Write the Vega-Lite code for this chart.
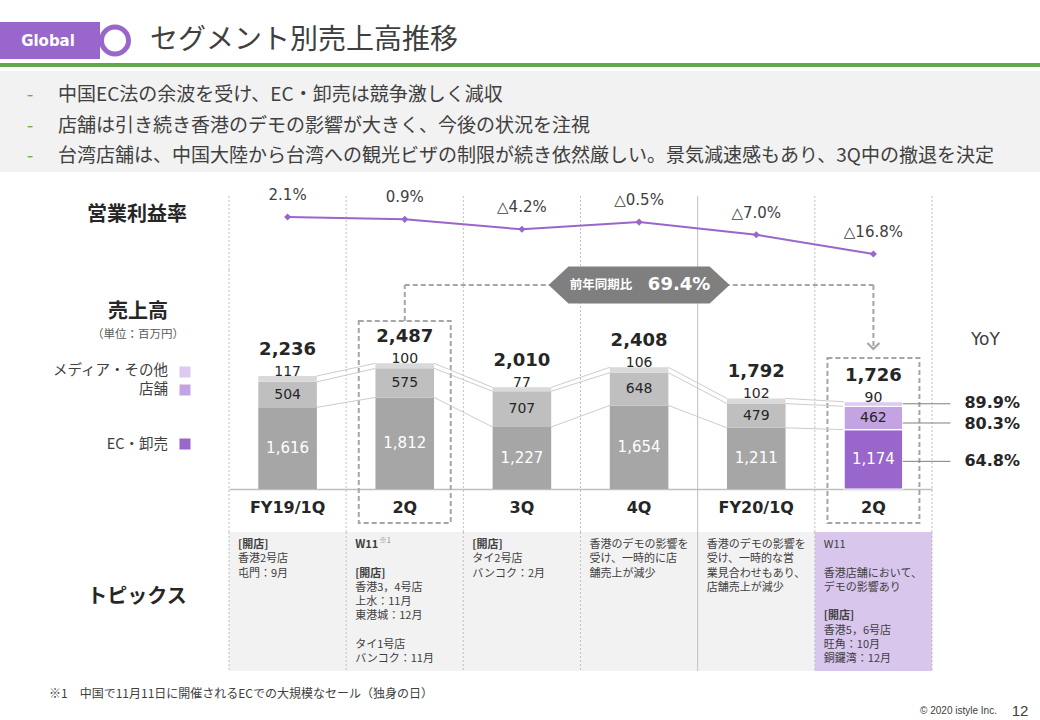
{
  "$schema": "https://vega.github.io/schema/vega-lite/v6.json",
  "background": "white",
  "padding": {"left": 0, "top": 22, "right": 0, "bottom": 0},
  "spacing": 4,
  "config": {
    "view": {"stroke": null},
    "font": "Noto Sans CJK JP",
    "text": {"color": "#404040", "font": "Noto Sans CJK JP"}
  },
  "datasets": {
    "bullets": [
      {"no": 1, "text": "中国EC法の余波を受け、EC・卸売は競争激しく減収"},
      {"no": 2, "text": "店舗は引き続き香港のデモの影響が大きく、今後の状況を注視"},
      {"no": 3, "text": "台湾店舗は、中国大陸から台湾への観光ビザの制限が続き依然厳しい。景気減速感もあり、3Q中の撤退を決定"}
    ],
    "quarters": [
      {"q": "FY19/1Q", "total": 2236, "margin": 2.1},
      {"q": "FY19/2Q", "total": 2487, "margin": 0.9},
      {"q": "FY19/3Q", "total": 2010, "margin": -4.2},
      {"q": "FY19/4Q", "total": 2408, "margin": -0.5},
      {"q": "FY20/1Q", "total": 1792, "margin": -7.0},
      {"q": "FY20/2Q", "total": 1726, "margin": -16.8}
    ],
    "sales": [
      {"q": "FY19/1Q", "seg": "EC・卸売", "rank": 1, "value": 1616},
      {"q": "FY19/1Q", "seg": "店舗", "rank": 2, "value": 504},
      {"q": "FY19/1Q", "seg": "メディア・その他", "rank": 3, "value": 117},
      {"q": "FY19/2Q", "seg": "EC・卸売", "rank": 1, "value": 1812},
      {"q": "FY19/2Q", "seg": "店舗", "rank": 2, "value": 575},
      {"q": "FY19/2Q", "seg": "メディア・その他", "rank": 3, "value": 100},
      {"q": "FY19/3Q", "seg": "EC・卸売", "rank": 1, "value": 1227},
      {"q": "FY19/3Q", "seg": "店舗", "rank": 2, "value": 707},
      {"q": "FY19/3Q", "seg": "メディア・その他", "rank": 3, "value": 77},
      {"q": "FY19/4Q", "seg": "EC・卸売", "rank": 1, "value": 1654},
      {"q": "FY19/4Q", "seg": "店舗", "rank": 2, "value": 648},
      {"q": "FY19/4Q", "seg": "メディア・その他", "rank": 3, "value": 106},
      {"q": "FY20/1Q", "seg": "EC・卸売", "rank": 1, "value": 1211},
      {"q": "FY20/1Q", "seg": "店舗", "rank": 2, "value": 479},
      {"q": "FY20/1Q", "seg": "メディア・その他", "rank": 3, "value": 102},
      {"q": "FY20/2Q", "seg": "EC・卸売", "rank": 1, "value": 1174, "yoy": 64.8},
      {"q": "FY20/2Q", "seg": "店舗", "rank": 2, "value": 462, "yoy": 80.3},
      {"q": "FY20/2Q", "seg": "メディア・その他", "rank": 3, "value": 90, "yoy": 89.9}
    ],
    "legend": [
      {"seg": "メディア・その他"},
      {"seg": "店舗"},
      {"seg": "EC・卸売"}
    ],
    "topics": [
      {"q": "FY19/1Q", "line": 0, "text": "[開店]", "kind": "head"},
      {"q": "FY19/1Q", "line": 1, "text": "香港2号店", "kind": "body"},
      {"q": "FY19/1Q", "line": 2, "text": "屯門：9月", "kind": "body"},
      {"q": "FY19/2Q", "line": 0, "text": "W11", "kind": "head"},
      {"q": "FY19/2Q", "line": 0, "text": "※1", "kind": "sup"},
      {"q": "FY19/2Q", "line": 2, "text": "[開店]", "kind": "head"},
      {"q": "FY19/2Q", "line": 3, "text": "香港3，4号店", "kind": "body"},
      {"q": "FY19/2Q", "line": 4, "text": "上水：11月", "kind": "body"},
      {"q": "FY19/2Q", "line": 5, "text": "東港城：12月", "kind": "body"},
      {"q": "FY19/2Q", "line": 7, "text": "タイ1号店", "kind": "body"},
      {"q": "FY19/2Q", "line": 8, "text": "バンコク：11月", "kind": "body"},
      {"q": "FY19/3Q", "line": 0, "text": "[開店]", "kind": "head"},
      {"q": "FY19/3Q", "line": 1, "text": "タイ2号店", "kind": "body"},
      {"q": "FY19/3Q", "line": 2, "text": "バンコク：2月", "kind": "body"},
      {"q": "FY19/4Q", "line": 0, "text": "香港のデモの影響を", "kind": "body"},
      {"q": "FY19/4Q", "line": 1, "text": "受け、一時的に店", "kind": "body"},
      {"q": "FY19/4Q", "line": 2, "text": "舗売上が減少", "kind": "body"},
      {"q": "FY20/1Q", "line": 0, "text": "香港のデモの影響を", "kind": "body"},
      {"q": "FY20/1Q", "line": 1, "text": "受け、一時的な営", "kind": "body"},
      {"q": "FY20/1Q", "line": 2, "text": "業見合わせもあり、", "kind": "body"},
      {"q": "FY20/1Q", "line": 3, "text": "店舗売上が減少", "kind": "body"},
      {"q": "FY20/2Q", "line": 0, "text": "W11", "kind": "body"},
      {"q": "FY20/2Q", "line": 2, "text": "香港店舗において、", "kind": "body"},
      {"q": "FY20/2Q", "line": 3, "text": "デモの影響あり", "kind": "body"},
      {"q": "FY20/2Q", "line": 5, "text": "[開店]", "kind": "head"},
      {"q": "FY20/2Q", "line": 6, "text": "香港5，6号店", "kind": "body"},
      {"q": "FY20/2Q", "line": 7, "text": "旺角：10月", "kind": "body"},
      {"q": "FY20/2Q", "line": 8, "text": "銅鑼湾：12月", "kind": "body"}
    ]
  },
  "vconcat": [
    {
      "hconcat": [
        {
          "width": 100, "height": 37,
          "view": {"fill": "#9966cc", "stroke": null},
          "data": {"values": [{"label": "Global"}]},
          "mark": {"type": "text", "font": "DejaVu Sans", "fontWeight": "bold", "fontSize": 15, "color": "white", "dx": -2},
          "encoding": {"text": {"field": "label"}}
        },
        {
          "width": 30, "height": 37,
          "data": {"values": [{"label": "ring"}]},
          "mark": {"type": "point", "shape": "circle", "size": 729, "filled": true, "fill": "white", "stroke": "#9966cc", "strokeWidth": 5, "strokeJoin": "round", "opacity": 1},
          "encoding": {}
        },
        {
          "width": 348, "height": 37,
          "data": {"values": [{"label": "セグメント別売上高推移"}]},
          "mark": {"type": "text", "fontSize": 28, "color": "#3f3f3f"},
          "encoding": {"text": {"field": "label"}}
        }
      ],
      "spacing": 0,
      "bounds": "flush"
    },
    {
      "width": 1040, "height": 4,
      "view": {"fill": "#5fa84b", "stroke": null},
      "data": {"values": [{"label": ""}]},
      "mark": {"type": "text", "fontSize": 1},
      "encoding": {"text": {"field": "label"}}
    },
    {
      "width": 1040, "height": 101,
      "view": {"fill": "#f2f2f2", "stroke": null},
      "data": {"name": "bullets"},
      "encoding": {
        "y": {"field": "no", "type": "ordinal", "axis": null, "scale": {"type": "point", "padding": 0.63}}
      },
      "layer": [
        {"mark": {"type": "text", "text": "-", "dx": -490, "dy": 4, "fontSize": 19, "color": "#70ad47"}},
        {"mark": {"type": "text", "align": "left", "dx": -462, "dy": 4, "fontSize": 19, "color": "#404040"},
         "encoding": {"text": {"field": "text"}}}
      ]
    },
    {
      "hconcat": [
        {
          "vconcat": [
            {
              "width": 228, "height": 94,
              "data": {"values": [{"label": "営業利益率"}]},
              "mark": {"type": "text", "fontSize": 20, "fontWeight": "bold", "color": "#262626", "dx": 23, "dy": -8},
              "encoding": {"text": {"field": "label"}}
            },
            {
              "width": 228, "height": 262,
              "layer": [
                {
                  "data": {"values": [{"label": "売上高"}]},
                  "mark": {"type": "text", "fontSize": 20, "fontWeight": "bold", "color": "#262626", "dx": 24, "dy": -89},
                  "encoding": {"text": {"field": "label"}}
                },
                {
                  "data": {"values": [{"label": "（単位：百万円）"}]},
                  "mark": {"type": "text", "fontSize": 11.5, "color": "#595959", "dx": 24, "dy": -66},
                  "encoding": {"text": {"field": "label"}}
                },
                {
                  "data": {"name": "legend"},
                  "transform": [{"filter": "datum.seg === 'メディア・その他'"}],
                  "mark": {"type": "text", "align": "right", "fontSize": 14.5, "dx": 54, "dy": -30},
                  "encoding": {"text": {"field": "seg"}}
                },
                {
                  "data": {"name": "legend"},
                  "transform": [{"filter": "datum.seg === '店舗'"}],
                  "mark": {"type": "text", "align": "right", "fontSize": 14.5, "dx": 54, "dy": -11},
                  "encoding": {"text": {"field": "seg"}}
                },
                {
                  "data": {"name": "legend"},
                  "transform": [{"filter": "datum.seg === 'EC・卸売'"}],
                  "mark": {"type": "text", "align": "right", "fontSize": 14.5, "dx": 54, "dy": 44},
                  "encoding": {"text": {"field": "seg"}}
                },
                {
                  "data": {"name": "legend"},
                  "transform": [{"filter": "datum.seg === 'メディア・その他'"}],
                  "mark": {"type": "point", "shape": "square", "size": 121, "filled": true, "opacity": 1, "xOffset": 71, "yOffset": -29},
                  "encoding": {"color": {"field": "seg", "type": "nominal", "legend": null, "scale": {"domain": ["EC・卸売", "店舗", "メディア・その他", "EC・卸売(前)", "店舗(前)", "メディア・その他(前)"], "range": ["#9966cc", "#c4a3e3", "#dccaf0", "#a6a6a6", "#bfbfbf", "#d9d9d9"]}}}
                },
                {
                  "data": {"name": "legend"},
                  "transform": [{"filter": "datum.seg === '店舗'"}],
                  "mark": {"type": "point", "shape": "square", "size": 121, "filled": true, "opacity": 1, "xOffset": 71, "yOffset": -11},
                  "encoding": {"color": {"field": "seg", "type": "nominal", "legend": null, "scale": {"domain": ["EC・卸売", "店舗", "メディア・その他", "EC・卸売(前)", "店舗(前)", "メディア・その他(前)"], "range": ["#9966cc", "#c4a3e3", "#dccaf0", "#a6a6a6", "#bfbfbf", "#d9d9d9"]}}}
                },
                {
                  "data": {"name": "legend"},
                  "transform": [{"filter": "datum.seg === 'EC・卸売'"}],
                  "mark": {"type": "point", "shape": "square", "size": 121, "filled": true, "opacity": 1, "xOffset": 71, "yOffset": 43},
                  "encoding": {"color": {"field": "seg", "type": "nominal", "legend": null, "scale": {"domain": ["EC・卸売", "店舗", "メディア・その他", "EC・卸売(前)", "店舗(前)", "メディア・その他(前)"], "range": ["#9966cc", "#c4a3e3", "#dccaf0", "#a6a6a6", "#bfbfbf", "#d9d9d9"]}}}
                }
              ]
            },
            {
              "width": 228, "height": 139,
              "data": {"values": [{"label": "トピックス"}]},
              "mark": {"type": "text", "fontSize": 20, "fontWeight": "bold", "color": "#262626", "dx": 23, "dy": -5},
              "encoding": {"text": {"field": "label"}}
            }
          ],
          "spacing": 0,
          "bounds": "flush"
        },
        {
          "vconcat": [
            {
              "width": 703, "height": 94,
              "layer": [
                {
                  "data": {"name": "quarters"},
                  "mark": {"type": "rule", "color": "#bfbfbf", "strokeWidth": 1},
                  "encoding": {
                    "x": {"field": "q", "type": "nominal", "bandPosition": 0, "axis": null, "scale": {"type": "band", "domain": ["FY19/1Q", "FY19/2Q", "FY19/3Q", "FY19/4Q", "FY20/1Q", "FY20/2Q"], "paddingInner": 0, "paddingOuter": 0}},
                    "y": {"datum": 12.83, "type": "quantitative", "axis": null, "scale": {"domain": [-24.97, 23.04], "nice": false, "zero": false}},
                    "y2": {"datum": -24.97},
                    "strokeDash": {"condition": {"test": "datum.q === 'FY20/1Q'", "value": [1, 0]}, "value": [2, 2]}
                  }
                },
                {
                  "data": {"name": "quarters"},
                  "transform": [{"filter": "datum.q === 'FY20/2Q'"}],
                  "mark": {"type": "rule", "color": "#bfbfbf", "strokeWidth": 1, "strokeDash": [2, 2]},
                  "encoding": {
                    "x": {"field": "q", "type": "nominal", "bandPosition": 1, "axis": null, "scale": {"type": "band", "domain": ["FY19/1Q", "FY19/2Q", "FY19/3Q", "FY19/4Q", "FY20/1Q", "FY20/2Q"], "paddingInner": 0, "paddingOuter": 0}},
                    "y": {"datum": 12.83, "type": "quantitative", "axis": null},
                    "y2": {"datum": -24.97}
                  }
                },
                {
                  "data": {"name": "quarters"},
                  "mark": {"type": "line", "color": "#9966cc", "strokeWidth": 2},
                  "encoding": {
                    "x": {"field": "q", "type": "nominal", "axis": null, "scale": {"type": "band", "domain": ["FY19/1Q", "FY19/2Q", "FY19/3Q", "FY19/4Q", "FY20/1Q", "FY20/2Q"], "paddingInner": 0, "paddingOuter": 0}},
                    "y": {"field": "margin", "type": "quantitative", "axis": null}
                  }
                },
                {
                  "data": {"name": "quarters"},
                  "mark": {"type": "point", "shape": "diamond", "size": 50, "filled": true, "color": "#9966cc", "opacity": 1},
                  "encoding": {
                    "x": {"field": "q", "type": "nominal", "axis": null},
                    "y": {"field": "margin", "type": "quantitative", "axis": null}
                  }
                },
                {
                  "data": {"name": "quarters"},
                  "transform": [{"calculate": "datum.margin < 0 ? '△' + format(-datum.margin, '.1f') + '%' : format(datum.margin, '.1f') + '%'", "as": "lbl"}],
                  "mark": {"type": "text", "font": "DejaVu Sans", "fontSize": 15, "color": "#404040", "dy": -22},
                  "encoding": {
                    "x": {"field": "q", "type": "nominal", "axis": null},
                    "y": {"field": "margin", "type": "quantitative", "axis": null},
                    "text": {"field": "lbl"}
                  }
                }
              ]
            },
            {
              "width": 703, "height": 262,
              "layer": [
                {
                  "data": {"name": "quarters"},
                  "mark": {"type": "rule", "color": "#bfbfbf", "strokeWidth": 1},
                  "encoding": {
                    "x": {"field": "q", "type": "nominal", "bandPosition": 0, "scale": {"type": "band", "domain": ["FY19/1Q", "FY19/2Q", "FY19/3Q", "FY19/4Q", "FY20/1Q", "FY20/2Q"], "paddingInner": 0, "paddingOuter": 0},
                      "axis": {"title": null, "orient": "bottom", "offset": -43, "domain": true, "domainColor": "#bfbfbf", "domainWidth": 1.5, "ticks": false, "tickSize": 0, "grid": false, "labelPadding": 10, "labelAngle": 0, "labelFont": "DejaVu Sans", "labelFontSize": 16, "labelFontWeight": "bold", "labelColor": "#262626", "labelExpr": "(datum.value === 'FY19/1Q' || datum.value === 'FY20/1Q') ? datum.value : substring(datum.value, 5)"}},
                    "strokeDash": {"condition": {"test": "datum.q === 'FY20/1Q'", "value": [1, 0]}, "value": [2, 2]}
                  }
                },
                {
                  "data": {"name": "quarters"},
                  "transform": [{"filter": "datum.q === 'FY20/2Q'"}],
                  "mark": {"type": "rule", "color": "#bfbfbf", "strokeWidth": 1, "strokeDash": [2, 2]},
                  "encoding": {
                    "x": {"field": "q", "type": "nominal", "bandPosition": 1}
                  }
                },
                {
                  "data": {"name": "quarters"},
                  "transform": [{"filter": "datum.q === 'FY19/2Q'"}],
                  "mark": {"type": "bar", "width": {"band": 0.785}, "fill": "transparent", "stroke": "#a6a6a6", "strokeWidth": 2, "strokeDash": [5, 3]},
                  "encoding": {
                    "x": {"field": "q", "type": "nominal"},
                    "y": {"datum": 3324, "type": "quantitative", "axis": null, "scale": {"domain": [-850.9, 4333.5], "nice": false, "zero": false}},
                    "y2": {"datum": -673}
                  }
                },
                {
                  "data": {"name": "quarters"},
                  "transform": [{"filter": "datum.q === 'FY20/2Q'"}],
                  "mark": {"type": "bar", "width": {"band": 0.785}, "fill": "transparent", "stroke": "#a6a6a6", "strokeWidth": 2, "strokeDash": [5, 3]},
                  "encoding": {
                    "x": {"field": "q", "type": "nominal"},
                    "y": {"datum": 2592, "type": "quantitative"},
                    "y2": {"datum": -673}
                  }
                },
                {
                  "data": {"name": "quarters"},
                  "transform": [{"filter": "datum.q === 'FY19/2Q'"}],
                  "mark": {"type": "rule", "color": "#a6a6a6", "strokeWidth": 2, "strokeDash": [5, 3]},
                  "encoding": {
                    "x": {"field": "q", "type": "nominal", "bandPosition": 0.5},
                    "y": {"datum": 3324, "type": "quantitative"},
                    "y2": {"datum": 4036}
                  }
                },
                {
                  "data": {"name": "quarters"},
                  "transform": [{"filter": "datum.q === 'FY19/2Q' || datum.q === 'FY20/2Q'"}],
                  "mark": {"type": "line", "color": "#a6a6a6", "strokeWidth": 2, "strokeDash": [5, 3]},
                  "encoding": {
                    "x": {"field": "q", "type": "nominal"},
                    "y": {"datum": 4036, "type": "quantitative"}
                  }
                },
                {
                  "data": {"name": "quarters"},
                  "transform": [{"filter": "datum.q === 'FY20/2Q'"}],
                  "mark": {"type": "rule", "color": "#a6a6a6", "strokeWidth": 2, "strokeDash": [5, 3]},
                  "encoding": {
                    "x": {"field": "q", "type": "nominal", "bandPosition": 0.5},
                    "y": {"datum": 4036, "type": "quantitative"},
                    "y2": {"datum": 2770}
                  }
                },
                {
                  "data": {"name": "quarters"},
                  "transform": [{"filter": "datum.q === 'FY20/2Q'"}],
                  "mark": {"type": "point", "shape": "M-1,-0.5L0,0.5L1,-0.5", "size": 144, "filled": false, "stroke": "#a6a6a6", "strokeWidth": 2, "opacity": 1},
                  "encoding": {
                    "x": {"field": "q", "type": "nominal"},
                    "y": {"datum": 2830, "type": "quantitative"}
                  }
                },
                {
                  "data": {"name": "quarters"},
                  "transform": [{"filter": "datum.q === 'FY19/4Q'"}],
                  "mark": {"type": "point", "shape": "M-1,0L-0.78,-0.204L0.78,-0.204L1,0L0.78,0.204L-0.78,0.204Z", "size": 32761, "filled": true, "color": "#7f7f7f", "opacity": 1},
                  "encoding": {
                    "x": {"field": "q", "type": "nominal"},
                    "y": {"datum": 4036, "type": "quantitative"}
                  }
                },
                {
                  "data": {"name": "quarters"},
                  "transform": [{"filter": "datum.q === 'FY19/4Q'"}],
                  "mark": {"type": "text", "text": "前年同期比", "fontSize": 12.5, "fontWeight": "bold", "color": "white", "dx": -38},
                  "encoding": {
                    "x": {"field": "q", "type": "nominal"},
                    "y": {"datum": 4036, "type": "quantitative"}
                  }
                },
                {
                  "data": {"name": "quarters"},
                  "transform": [{"filter": "datum.q === 'FY19/4Q'"}],
                  "mark": {"type": "text", "text": "69.4%", "font": "DejaVu Sans", "fontSize": 18, "fontWeight": "bold", "color": "white", "dx": 40},
                  "encoding": {
                    "x": {"field": "q", "type": "nominal"},
                    "y": {"datum": 4036, "type": "quantitative"}
                  }
                },
                {
                  "data": {"name": "sales"},
                  "transform": [
                    {"stack": "value", "groupby": ["q"], "sort": [{"field": "rank", "order": "ascending"}], "as": ["y0", "y1"]},
                    {"window": [{"op": "lead", "field": "y1", "as": "ny1"}, {"op": "lead", "field": "q", "as": "nq"}], "groupby": ["seg"], "sort": [{"field": "q", "order": "ascending"}]},
                    {"filter": "datum.nq != null"}
                  ],
                  "mark": {"type": "rule", "color": "#cccccc", "strokeWidth": 1, "xOffset": 29.3, "x2Offset": -29.3},
                  "encoding": {
                    "x": {"field": "q", "type": "nominal", "bandPosition": 0.5},
                    "x2": {"field": "nq"},
                    "y": {"field": "y1", "type": "quantitative"},
                    "y2": {"field": "ny1"}
                  }
                },
                {
                  "data": {"name": "sales"},
                  "transform": [
                    {"stack": "value", "groupby": ["q"], "sort": [{"field": "rank", "order": "ascending"}], "as": ["y0", "y1"]},
                    {"calculate": "datum.q === 'FY20/2Q' ? datum.seg : datum.seg + '(前)'", "as": "ckey"}
                  ],
                  "mark": {"type": "bar", "width": {"band": 0.5}, "stroke": "white"},
                  "encoding": {
                    "x": {"field": "q", "type": "nominal"},
                    "y": {"field": "y0", "type": "quantitative"},
                    "y2": {"field": "y1"},
                    "color": {"field": "ckey", "type": "nominal", "legend": null, "scale": {"domain": ["EC・卸売", "店舗", "メディア・その他", "EC・卸売(前)", "店舗(前)", "メディア・その他(前)"], "range": ["#9966cc", "#c4a3e3", "#dccaf0", "#a6a6a6", "#bfbfbf", "#d9d9d9"]}},
                    "strokeWidth": {"condition": {"test": "datum.q === 'FY20/2Q'", "value": 1.2}, "value": 0}
                  }
                },
                {
                  "data": {"name": "sales"},
                  "transform": [
                    {"stack": "value", "groupby": ["q"], "sort": [{"field": "rank", "order": "ascending"}], "as": ["y0", "y1"]},
                    {"calculate": "(datum.y0 + datum.y1) / 2", "as": "ymid"},
                    {"filter": "datum.seg === 'EC・卸売'"}
                  ],
                  "mark": {"type": "text", "font": "DejaVu Sans", "fontSize": 15, "color": "white"},
                  "encoding": {
                    "x": {"field": "q", "type": "nominal"},
                    "y": {"field": "ymid", "type": "quantitative"},
                    "text": {"field": "value", "type": "quantitative", "format": ","}
                  }
                },
                {
                  "data": {"name": "sales"},
                  "transform": [
                    {"stack": "value", "groupby": ["q"], "sort": [{"field": "rank", "order": "ascending"}], "as": ["y0", "y1"]},
                    {"calculate": "(datum.y0 + datum.y1) / 2", "as": "ymid"},
                    {"filter": "datum.seg === '店舗'"}
                  ],
                  "mark": {"type": "text", "font": "DejaVu Sans", "fontSize": 14, "color": "#262626"},
                  "encoding": {
                    "x": {"field": "q", "type": "nominal"},
                    "y": {"field": "ymid", "type": "quantitative"},
                    "text": {"field": "value", "type": "quantitative", "format": ","}
                  }
                },
                {
                  "data": {"name": "sales"},
                  "transform": [
                    {"stack": "value", "groupby": ["q"], "sort": [{"field": "rank", "order": "ascending"}], "as": ["y0", "y1"]},
                    {"filter": "datum.seg === 'メディア・その他'"}
                  ],
                  "mark": {"type": "text", "font": "DejaVu Sans", "fontSize": 14, "color": "#262626", "dy": -4},
                  "encoding": {
                    "x": {"field": "q", "type": "nominal"},
                    "y": {"field": "y1", "type": "quantitative"},
                    "text": {"field": "value", "type": "quantitative", "format": ","}
                  }
                },
                {
                  "data": {"name": "quarters"},
                  "mark": {"type": "text", "font": "DejaVu Sans", "fontSize": 18, "fontWeight": "bold", "color": "#262626", "dy": -26},
                  "encoding": {
                    "x": {"field": "q", "type": "nominal"},
                    "y": {"field": "total", "type": "quantitative"},
                    "text": {"field": "total", "type": "quantitative", "format": ","}
                  }
                },
                {
                  "data": {"name": "sales"},
                  "transform": [
                    {"stack": "value", "groupby": ["q"], "sort": [{"field": "rank", "order": "ascending"}], "as": ["y0", "y1"]},
                    {"filter": "datum.q === 'FY20/2Q' && datum.seg === 'メディア・その他'"}
                  ],
                  "mark": {"type": "rule", "color": "#7f7f7f", "strokeWidth": 1, "xOffset": 29.3, "x2Offset": 77, "yOffset": 2},
                  "encoding": {
                    "x": {"field": "q", "type": "nominal", "bandPosition": 0.5},
                    "x2": {"field": "q"},
                    "y": {"field": "y1", "type": "quantitative"}
                  }
                },
                {
                  "data": {"name": "sales"},
                  "transform": [
                    {"stack": "value", "groupby": ["q"], "sort": [{"field": "rank", "order": "ascending"}], "as": ["y0", "y1"]},
                    {"filter": "datum.q === 'FY20/2Q' && datum.seg === 'メディア・その他'"},
                    {"calculate": "format(datum.yoy, '.1f') + '%'", "as": "yl"}
                  ],
                  "mark": {"type": "text", "align": "left", "font": "DejaVu Sans", "fontSize": 16, "fontWeight": "bold", "color": "#262626", "dx": 91, "dy": 1},
                  "encoding": {
                    "x": {"field": "q", "type": "nominal"},
                    "y": {"field": "y1", "type": "quantitative"},
                    "text": {"field": "yl"}
                  }
                },
                {
                  "data": {"name": "sales"},
                  "transform": [
                    {"stack": "value", "groupby": ["q"], "sort": [{"field": "rank", "order": "ascending"}], "as": ["y0", "y1"]},
                    {"calculate": "(datum.y0 + datum.y1) / 2", "as": "ymid"},
                    {"filter": "datum.q === 'FY20/2Q' && datum.seg === '店舗'"}
                  ],
                  "mark": {"type": "rule", "color": "#7f7f7f", "strokeWidth": 1, "xOffset": 29.3, "x2Offset": 77, "yOffset": 5},
                  "encoding": {
                    "x": {"field": "q", "type": "nominal", "bandPosition": 0.5},
                    "x2": {"field": "q"},
                    "y": {"field": "ymid", "type": "quantitative"}
                  }
                },
                {
                  "data": {"name": "sales"},
                  "transform": [
                    {"stack": "value", "groupby": ["q"], "sort": [{"field": "rank", "order": "ascending"}], "as": ["y0", "y1"]},
                    {"calculate": "(datum.y0 + datum.y1) / 2", "as": "ymid"},
                    {"filter": "datum.q === 'FY20/2Q' && datum.seg === '店舗'"},
                    {"calculate": "format(datum.yoy, '.1f') + '%'", "as": "yl"}
                  ],
                  "mark": {"type": "text", "align": "left", "font": "DejaVu Sans", "fontSize": 16, "fontWeight": "bold", "color": "#262626", "dx": 91, "dy": 6},
                  "encoding": {
                    "x": {"field": "q", "type": "nominal"},
                    "y": {"field": "ymid", "type": "quantitative"},
                    "text": {"field": "yl"}
                  }
                },
                {
                  "data": {"name": "sales"},
                  "transform": [
                    {"stack": "value", "groupby": ["q"], "sort": [{"field": "rank", "order": "ascending"}], "as": ["y0", "y1"]},
                    {"calculate": "(datum.y0 + datum.y1) / 2", "as": "ymid"},
                    {"filter": "datum.q === 'FY20/2Q' && datum.seg === 'EC・卸売'"}
                  ],
                  "mark": {"type": "rule", "color": "#7f7f7f", "strokeWidth": 1, "xOffset": 29.3, "x2Offset": 77, "yOffset": 2},
                  "encoding": {
                    "x": {"field": "q", "type": "nominal", "bandPosition": 0.5},
                    "x2": {"field": "q"},
                    "y": {"field": "ymid", "type": "quantitative"}
                  }
                },
                {
                  "data": {"name": "sales"},
                  "transform": [
                    {"stack": "value", "groupby": ["q"], "sort": [{"field": "rank", "order": "ascending"}], "as": ["y0", "y1"]},
                    {"calculate": "(datum.y0 + datum.y1) / 2", "as": "ymid"},
                    {"filter": "datum.q === 'FY20/2Q' && datum.seg === 'EC・卸売'"},
                    {"calculate": "format(datum.yoy, '.1f') + '%'", "as": "yl"}
                  ],
                  "mark": {"type": "text", "align": "left", "font": "DejaVu Sans", "fontSize": 16, "fontWeight": "bold", "color": "#262626", "dx": 91, "dy": 2},
                  "encoding": {
                    "x": {"field": "q", "type": "nominal"},
                    "y": {"field": "ymid", "type": "quantitative"},
                    "text": {"field": "yl"}
                  }
                },
                {
                  "data": {"name": "quarters"},
                  "transform": [{"filter": "datum.q === 'FY20/2Q'"}],
                  "mark": {"type": "text", "text": "YoY", "font": "DejaVu Sans", "fontSize": 17, "color": "#404040", "dx": 112},
                  "encoding": {
                    "x": {"field": "q", "type": "nominal"},
                    "y": {"datum": 2948, "type": "quantitative"}
                  }
                }
              ]
            },
            {
              "width": 703, "height": 139,
              "layer": [
                {
                  "data": {"name": "quarters"},
                  "mark": {"type": "rect"},
                  "encoding": {
                    "x": {"field": "q", "type": "nominal", "axis": null, "scale": {"type": "band", "domain": ["FY19/1Q", "FY19/2Q", "FY19/3Q", "FY19/4Q", "FY20/1Q", "FY20/2Q"], "paddingInner": 0, "paddingOuter": 0}},
                    "fill": {"condition": {"test": "datum.q === 'FY20/2Q'", "value": "#d9c6ed"}, "value": "#f2f2f2"}
                  }
                },
                {
                  "data": {"name": "quarters"},
                  "mark": {"type": "rule", "color": "#bfbfbf", "strokeWidth": 1},
                  "encoding": {
                    "x": {"field": "q", "type": "nominal", "bandPosition": 0, "axis": null},
                    "strokeDash": {"condition": {"test": "datum.q === 'FY20/1Q'", "value": [1, 0]}, "value": [2, 2]}
                  }
                },
                {
                  "data": {"name": "quarters"},
                  "transform": [{"filter": "datum.q === 'FY20/2Q'"}],
                  "mark": {"type": "rule", "color": "#bfbfbf", "strokeWidth": 1, "strokeDash": [2, 2]},
                  "encoding": {
                    "x": {"field": "q", "type": "nominal", "bandPosition": 1, "axis": null}
                  }
                },
                {
                  "data": {"name": "topics"},
                  "transform": [{"filter": "datum.kind === 'body'"}],
                  "mark": {"type": "text", "align": "left", "fontSize": 11, "color": "#404040", "dx": 9},
                  "encoding": {
                    "x": {"field": "q", "type": "nominal", "bandPosition": 0, "axis": null},
                    "y": {"field": "line", "type": "quantitative", "axis": null, "scale": {"domain": [-0.912, 8.838], "nice": false, "zero": false, "reverse": true}},
                    "text": {"field": "text"}
                  }
                },
                {
                  "data": {"name": "topics"},
                  "transform": [{"filter": "datum.kind === 'head'"}],
                  "mark": {"type": "text", "align": "left", "fontSize": 11, "fontWeight": "bold", "color": "#404040", "dx": 9},
                  "encoding": {
                    "x": {"field": "q", "type": "nominal", "bandPosition": 0, "axis": null},
                    "y": {"field": "line", "type": "quantitative", "axis": null},
                    "text": {"field": "text"}
                  }
                },
                {
                  "data": {"name": "topics"},
                  "transform": [{"filter": "datum.kind === 'sup'"}],
                  "mark": {"type": "text", "align": "left", "fontSize": 7.5, "color": "#8c8c8c", "dx": 33, "dy": -4},
                  "encoding": {
                    "x": {"field": "q", "type": "nominal", "bandPosition": 0, "axis": null},
                    "y": {"field": "line", "type": "quantitative", "axis": null},
                    "text": {"field": "text"}
                  }
                }
              ]
            }
          ],
          "spacing": 0,
          "bounds": "flush"
        }
      ],
      "spacing": 0
    },
    {
      "hconcat": [
        {
          "width": 482, "height": 45,
          "data": {"values": [{"label": "※1　中国で11月11日に開催されるECでの大規模なセール（独身の日）"}]},
          "mark": {"type": "text", "fontSize": 12, "color": "#404040", "dy": -5},
          "encoding": {"text": {"field": "label"}}
        },
        {
          "width": 435, "height": 45,
          "data": {"values": [{"label": ""}]},
          "mark": {"type": "text", "fontSize": 1},
          "encoding": {"text": {"field": "label"}}
        },
        {
          "width": 83, "height": 45,
          "data": {"values": [{"label": "© 2020 istyle Inc."}]},
          "mark": {"type": "text", "font": "Liberation Sans", "fontSize": 10, "color": "#404040", "dy": 12.5},
          "encoding": {"text": {"field": "label"}}
        },
        {
          "width": 40, "height": 45,
          "data": {"values": [{"label": "12"}]},
          "mark": {"type": "text", "font": "Liberation Sans", "fontSize": 15, "color": "#404040", "dy": 12},
          "encoding": {"text": {"field": "label"}}
        }
      ],
      "spacing": 0,
      "bounds": "flush"
    }
  ]
}
